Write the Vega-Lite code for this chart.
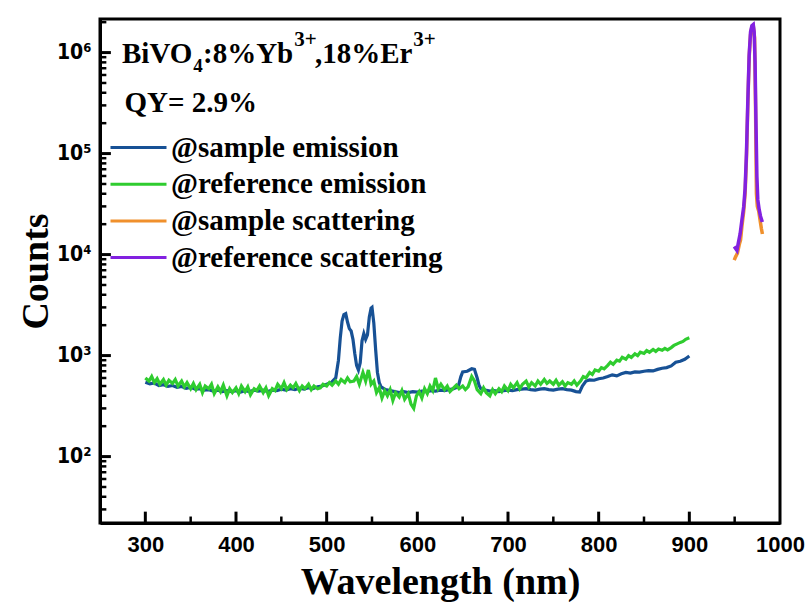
{
  "$schema": "https://vega.github.io/schema/vega-lite/v6.json",
  "width": 680,
  "height": 504,
  "autosize": {"type": "none"},
  "padding": {"left": 100, "top": 19, "right": 26, "bottom": 79},
  "background": "white",
  "config": {
    "view": {"stroke": "#000", "strokeWidth": 3},
    "axis": {
      "domainColor": "#000", "domainWidth": 3, "grid": false, "ticks": false, "zindex": 1,
      "labelFont": "Liberation Sans", "labelFontWeight": "bold", "labelFontSize": 22, "labelColor": "#000",
      "titleFont": "Liberation Serif", "titleFontWeight": "bold", "titleFontSize": 38, "titleColor": "#000",
      "labelOverlap": false, "labelBound": false, "labelFlush": false
    }
  },
  "datasets": {
    "sampleEm": [
      {"wl":300,"counts":545},{"wl":305,"counts":525},{"wl":310,"counts":535},{"wl":315,"counts":505},{"wl":320,"counts":515},{"wl":325,"counts":495},{"wl":330,"counts":505},{"wl":335,"counts":485},{"wl":340,"counts":495},{"wl":345,"counts":475},{"wl":350,"counts":485},{"wl":355,"counts":465},{"wl":360,"counts":470},{"wl":365,"counts":455},{"wl":370,"counts":460},{"wl":375,"counts":445},{"wl":380,"counts":455},{"wl":385,"counts":440},{"wl":390,"counts":450},{"wl":395,"counts":440},{"wl":400,"counts":450},{"wl":405,"counts":435},{"wl":410,"counts":450},{"wl":415,"counts":440},{"wl":420,"counts":455},{"wl":425,"counts":445},{"wl":430,"counts":455},{"wl":435,"counts":440},{"wl":440,"counts":455},{"wl":445,"counts":450},{"wl":450,"counts":465},{"wl":455,"counts":455},{"wl":460,"counts":470},{"wl":465,"counts":460},{"wl":470,"counts":475},{"wl":475,"counts":465},{"wl":480,"counts":480},{"wl":485,"counts":470},{"wl":490,"counts":490},{"wl":495,"counts":500},{"wl":500,"counts":520},{"wl":505,"counts":540},{"wl":510,"counts":600},{"wl":513,"counts":900},{"wl":515,"counts":1500},{"wl":517,"counts":2200},{"wl":519,"counts":2550},{"wl":521,"counts":2600},{"wl":523,"counts":2150},{"wl":525,"counts":1850},{"wl":527,"counts":1750},{"wl":529,"counts":1450},{"wl":531,"counts":1050},{"wl":533,"counts":800},{"wl":535,"counts":720},{"wl":537,"counts":850},{"wl":539,"counts":1400},{"wl":541,"counts":1650},{"wl":543,"counts":1450},{"wl":545,"counts":1600},{"wl":547,"counts":2400},{"wl":549,"counts":2950},{"wl":550,"counts":3000},{"wl":552,"counts":2100},{"wl":554,"counts":1150},{"wl":556,"counts":680},{"wl":558,"counts":540},{"wl":560,"counts":490},{"wl":565,"counts":460},{"wl":570,"counts":450},{"wl":575,"counts":440},{"wl":580,"counts":430},{"wl":585,"counts":440},{"wl":590,"counts":430},{"wl":595,"counts":440},{"wl":600,"counts":435},{"wl":605,"counts":445},{"wl":610,"counts":440},{"wl":615,"counts":450},{"wl":620,"counts":445},{"wl":625,"counts":455},{"wl":630,"counts":450},{"wl":635,"counts":460},{"wl":640,"counts":470},{"wl":645,"counts":490},{"wl":648,"counts":620},{"wl":650,"counts":690},{"wl":655,"counts":700},{"wl":660,"counts":740},{"wl":663,"counts":730},{"wl":666,"counts":600},{"wl":668,"counts":510},{"wl":670,"counts":470},{"wl":675,"counts":455},{"wl":680,"counts":445},{"wl":685,"counts":450},{"wl":690,"counts":440},{"wl":695,"counts":450},{"wl":700,"counts":455},{"wl":705,"counts":450},{"wl":710,"counts":460},{"wl":715,"counts":465},{"wl":720,"counts":470},{"wl":725,"counts":460},{"wl":730,"counts":455},{"wl":735,"counts":465},{"wl":740,"counts":470},{"wl":745,"counts":460},{"wl":750,"counts":455},{"wl":755,"counts":465},{"wl":760,"counts":470},{"wl":765,"counts":460},{"wl":770,"counts":455},{"wl":775,"counts":440},{"wl":779,"counts":435},{"wl":782,"counts":500},{"wl":786,"counts":560},{"wl":790,"counts":575},{"wl":795,"counts":570},{"wl":800,"counts":590},{"wl":805,"counts":600},{"wl":810,"counts":620},{"wl":815,"counts":645},{"wl":820,"counts":630},{"wl":825,"counts":660},{"wl":830,"counts":680},{"wl":835,"counts":670},{"wl":840,"counts":690},{"wl":845,"counts":685},{"wl":850,"counts":700},{"wl":855,"counts":710},{"wl":860,"counts":705},{"wl":865,"counts":730},{"wl":870,"counts":750},{"wl":875,"counts":760},{"wl":880,"counts":790},{"wl":885,"counts":860},{"wl":890,"counts":880},{"wl":895,"counts":920},{"wl":900,"counts":990}
    ],
    "refEm": [
      {"wl":300,"counts":600},{"wl":304,"counts":560},{"wl":307,"counts":620},{"wl":310,"counts":540},{"wl":313,"counts":590},{"wl":316,"counts":520},{"wl":320,"counts":580},{"wl":323,"counts":510},{"wl":326,"counts":570},{"wl":330,"counts":530},{"wl":333,"counts":580},{"wl":336,"counts":500},{"wl":340,"counts":560},{"wl":343,"counts":490},{"wl":346,"counts":540},{"wl":350,"counts":470},{"wl":353,"counts":530},{"wl":356,"counts":460},{"wl":360,"counts":520},{"wl":363,"counts":430},{"wl":366,"counts":500},{"wl":370,"counts":470},{"wl":373,"counts":520},{"wl":376,"counts":420},{"wl":380,"counts":490},{"wl":383,"counts":440},{"wl":386,"counts":510},{"wl":390,"counts":400},{"wl":393,"counts":470},{"wl":396,"counts":430},{"wl":400,"counts":480},{"wl":403,"counts":420},{"wl":406,"counts":500},{"wl":410,"counts":440},{"wl":413,"counts":490},{"wl":416,"counts":410},{"wl":420,"counts":470},{"wl":423,"counts":450},{"wl":426,"counts":500},{"wl":430,"counts":430},{"wl":433,"counts":480},{"wl":436,"counts":400},{"wl":440,"counts":470},{"wl":443,"counts":450},{"wl":446,"counts":520},{"wl":450,"counts":470},{"wl":453,"counts":540},{"wl":456,"counts":460},{"wl":460,"counts":510},{"wl":463,"counts":480},{"wl":466,"counts":530},{"wl":470,"counts":450},{"wl":473,"counts":500},{"wl":476,"counts":470},{"wl":480,"counts":520},{"wl":483,"counts":460},{"wl":486,"counts":500},{"wl":490,"counts":470},{"wl":493,"counts":480},{"wl":496,"counts":520},{"wl":500,"counts":500},{"wl":503,"counts":540},{"wl":506,"counts":510},{"wl":510,"counts":560},{"wl":513,"counts":520},{"wl":516,"counts":580},{"wl":520,"counts":540},{"wl":523,"counts":600},{"wl":526,"counts":550},{"wl":530,"counts":560},{"wl":533,"counts":620},{"wl":536,"counts":520},{"wl":540,"counts":680},{"wl":543,"counts":560},{"wl":546,"counts":720},{"wl":549,"counts":520},{"wl":552,"counts":560},{"wl":555,"counts":430},{"wl":558,"counts":480},{"wl":561,"counts":380},{"wl":564,"counts":450},{"wl":567,"counts":400},{"wl":570,"counts":460},{"wl":573,"counts":360},{"wl":576,"counts":430},{"wl":580,"counts":390},{"wl":583,"counts":450},{"wl":586,"counts":370},{"wl":590,"counts":420},{"wl":593,"counts":330},{"wl":596,"counts":300},{"wl":599,"counts":400},{"wl":602,"counts":440},{"wl":605,"counts":380},{"wl":608,"counts":470},{"wl":611,"counts":420},{"wl":614,"counts":500},{"wl":617,"counts":450},{"wl":620,"counts":600},{"wl":623,"counts":470},{"wl":626,"counts":520},{"wl":630,"counts":460},{"wl":633,"counts":500},{"wl":636,"counts":440},{"wl":640,"counts":480},{"wl":643,"counts":510},{"wl":646,"counts":470},{"wl":650,"counts":500},{"wl":653,"counts":460},{"wl":656,"counts":490},{"wl":660,"counts":620},{"wl":663,"counts":560},{"wl":666,"counts":460},{"wl":670,"counts":420},{"wl":673,"counts":480},{"wl":676,"counts":430},{"wl":680,"counts":400},{"wl":683,"counts":460},{"wl":686,"counts":420},{"wl":690,"counts":470},{"wl":693,"counts":440},{"wl":696,"counts":500},{"wl":700,"counts":450},{"wl":703,"counts":520},{"wl":706,"counts":480},{"wl":710,"counts":540},{"wl":713,"counts":470},{"wl":716,"counts":520},{"wl":720,"counts":560},{"wl":723,"counts":490},{"wl":726,"counts":540},{"wl":730,"counts":500},{"wl":733,"counts":560},{"wl":736,"counts":520},{"wl":740,"counts":580},{"wl":743,"counts":530},{"wl":746,"counts":560},{"wl":750,"counts":520},{"wl":753,"counts":570},{"wl":756,"counts":510},{"wl":760,"counts":550},{"wl":763,"counts":500},{"wl":766,"counts":540},{"wl":770,"counts":520},{"wl":773,"counts":560},{"wl":776,"counts":510},{"wl":780,"counts":560},{"wl":783,"counts":620},{"wl":786,"counts":600},{"wl":790,"counts":680},{"wl":793,"counts":650},{"wl":796,"counts":720},{"wl":800,"counts":700},{"wl":803,"counts":760},{"wl":806,"counts":740},{"wl":810,"counts":800},{"wl":813,"counts":860},{"wl":816,"counts":820},{"wl":820,"counts":900},{"wl":823,"counts":880},{"wl":826,"counts":960},{"wl":830,"counts":920},{"wl":833,"counts":1000},{"wl":836,"counts":960},{"wl":840,"counts":1040},{"wl":843,"counts":1000},{"wl":846,"counts":1080},{"wl":850,"counts":1050},{"wl":853,"counts":1120},{"wl":856,"counts":1080},{"wl":860,"counts":1150},{"wl":863,"counts":1100},{"wl":866,"counts":1160},{"wl":870,"counts":1130},{"wl":873,"counts":1180},{"wl":876,"counts":1140},{"wl":880,"counts":1200},{"wl":883,"counts":1260},{"wl":886,"counts":1300},{"wl":890,"counts":1350},{"wl":893,"counts":1380},{"wl":896,"counts":1450},{"wl":900,"counts":1500}
    ],
    "sampleSc": [
      {"wl":949.5,"counts":8800},{"wl":951,"counts":9500},{"wl":953,"counts":10300},{"wl":955,"counts":12500},{"wl":956.5,"counts":14000},{"wl":958,"counts":19000},{"wl":960,"counts":27000},{"wl":961.5,"counts":40000},{"wl":963,"counts":90000},{"wl":964.5,"counts":300000},{"wl":966,"counts":900000},{"wl":967.5,"counts":1500000},{"wl":969,"counts":1800000},{"wl":970.5,"counts":1850000},{"wl":972,"counts":1400000},{"wl":973,"counts":300000},{"wl":974,"counts":40000},{"wl":975,"counts":30000},{"wl":976.5,"counts":27000},{"wl":978,"counts":22000},{"wl":979.5,"counts":18000},{"wl":980.6,"counts":16000}
    ],
    "refSc": [
      {"wl":949.5,"counts":12000},{"wl":951,"counts":11500},{"wl":952.5,"counts":11000},{"wl":954,"counts":13000},{"wl":956,"counts":16000},{"wl":958,"counts":22000},{"wl":960,"counts":30000},{"wl":961.5,"counts":45000},{"wl":963,"counts":100000},{"wl":964.5,"counts":330000},{"wl":966,"counts":950000},{"wl":967.5,"counts":1600000},{"wl":969,"counts":1850000},{"wl":970.5,"counts":1900000},{"wl":971.5,"counts":1600000},{"wl":972.5,"counts":800000},{"wl":973.5,"counts":200000},{"wl":974.5,"counts":60000},{"wl":975.5,"counts":35000},{"wl":977,"counts":28000},{"wl":978.5,"counts":24000},{"wl":980.5,"counts":21000}
    ],
    "notes": [
      {"wl":274.3,"counts":791000,"label":"BiVO"},
      {"wl":363.6,"counts":791000,"label":":8%Yb"},
      {"wl":487.1,"counts":791000,"label":",18%Er"},
      {"wl":277,"counts":259000,"label":"QY= 2.9%"}
    ],
    "subs": [
      {"wl":352.8,"counts":640000,"label":"4"}
    ],
    "sups": [
      {"wl":464.2,"counts":1165000,"label":"3+"},
      {"wl":595.4,"counts":1165000,"label":"3+"}
    ],
    "xMajor": [{"wl":300},{"wl":400},{"wl":500},{"wl":600},{"wl":700},{"wl":800},{"wl":900}],
    "xMinor": [{"wl":350},{"wl":450},{"wl":550},{"wl":650},{"wl":750},{"wl":850},{"wl":950}],
    "yMajor": [{"counts":100},{"counts":1000},{"counts":10000},{"counts":100000},{"counts":1000000}],
    "yMinor": [{"counts":30},{"counts":40},{"counts":50},{"counts":60},{"counts":70},{"counts":80},{"counts":90},{"counts":200},{"counts":300},{"counts":400},{"counts":500},{"counts":600},{"counts":700},{"counts":800},{"counts":900},{"counts":2000},{"counts":3000},{"counts":4000},{"counts":5000},{"counts":6000},{"counts":7000},{"counts":8000},{"counts":9000},{"counts":20000},{"counts":30000},{"counts":40000},{"counts":50000},{"counts":60000},{"counts":70000},{"counts":80000},{"counts":90000},{"counts":200000},{"counts":300000},{"counts":400000},{"counts":500000},{"counts":600000},{"counts":700000},{"counts":800000},{"counts":900000},{"counts":2000000}]
  },
  "layer": [
    {"data": {"name": "sampleEm"}, "mark": {"type": "line", "strokeWidth": 3.2, "clip": true}, "encoding": {
      "x": {
        "field": "wl", "type": "quantitative",
        "scale": {"domain": [250, 1000], "nice": false, "zero": false},
        "axis": {"title": "Wavelength (nm)", "titlePadding": 8, "values": [300,400,500,600,700,800,900,1000], "format": "d", "labelPadding": 11}
      },
      "y": {
        "field": "counts", "type": "quantitative",
        "scale": {"type": "log", "domain": [22, 2150000], "nice": false},
        "axis": {
          "title": "Counts", "titlePadding": 1,
          "values": [100,1000,10000,100000,1000000],
          "labelExpr": "datum.value == 100 ? '10²' : datum.value == 1000 ? '10³' : datum.value == 10000 ? '10⁴' : datum.value == 100000 ? '10⁵' : datum.value == 1000000 ? '10⁶' : ''",
          "labelFont": "DejaVu Sans Condensed", "labelFontSize": 21, "labelPadding": 9
        }
      },
      "color": {"datum": "@sample emission"}}},
    {"data": {"name": "refEm"}, "mark": {"type": "line", "strokeWidth": 3.2, "clip": true}, "encoding": {"x": {"field": "wl", "type": "quantitative"}, "y": {"field": "counts", "type": "quantitative"}, "color": {"datum": "@reference emission"}}},
    {"data": {"name": "sampleSc"}, "mark": {"type": "line", "strokeWidth": 3.5, "clip": true}, "encoding": {"x": {"field": "wl", "type": "quantitative"}, "y": {"field": "counts", "type": "quantitative"}, "color": {"datum": "@sample scattering"}}},
    {"data": {"name": "refSc"}, "mark": {"type": "line", "strokeWidth": 3.5, "clip": true}, "encoding": {
      "x": {"field": "wl", "type": "quantitative"}, "y": {"field": "counts", "type": "quantitative"},
      "color": {"datum": "@reference scattering", "type": "nominal",
        "scale": {"domain": ["@sample emission", "@reference emission", "@sample scattering", "@reference scattering"], "range": ["#175195", "#2fcc2f", "#f0902c", "#8221e0"]},
        "legend": {
          "title": null, "orient": "none", "legendX": 24, "legendY": 114, "padding": 0,
          "symbolType": "M-5.6,0H5.6", "symbolSize": 100, "symbolStrokeWidth": 3,
          "labelFont": "Liberation Serif", "labelFontWeight": "bold", "labelFontSize": 29, "labelColor": "#000",
          "labelOffset": 18, "rowPadding": 6.7, "labelLimit": 0
        }
      }
    }},
    {"data": {"name": "xMajor"}, "mark": {"type": "rule", "strokeWidth": 3, "stroke": "#000"}, "encoding": {"x": {"field": "wl", "type": "quantitative"}, "y": {"datum": 22, "type": "quantitative"}, "y2": {"datum": 28.5}}},
    {"data": {"name": "xMinor"}, "mark": {"type": "rule", "strokeWidth": 2.5, "stroke": "#000"}, "encoding": {"x": {"field": "wl", "type": "quantitative"}, "y": {"datum": 22, "type": "quantitative"}, "y2": {"datum": 25.5}}},
    {"data": {"name": "yMajor"}, "mark": {"type": "rule", "strokeWidth": 3, "stroke": "#000"}, "encoding": {"y": {"field": "counts", "type": "quantitative"}, "x": {"datum": 250, "type": "quantitative"}, "x2": {"datum": 262}}},
    {"data": {"name": "yMinor"}, "mark": {"type": "rule", "strokeWidth": 2.5, "stroke": "#000"}, "encoding": {"y": {"field": "counts", "type": "quantitative"}, "x": {"datum": 250, "type": "quantitative"}, "x2": {"datum": 257}}},
    {"data": {"name": "notes"}, "mark": {"type": "text", "align": "left", "baseline": "alphabetic", "font": "Liberation Serif", "fontWeight": "bold", "fontSize": 29, "color": "#000"}, "encoding": {"x": {"field": "wl", "type": "quantitative"}, "y": {"field": "counts", "type": "quantitative"}, "text": {"field": "label"}}},
    {"data": {"name": "subs"}, "mark": {"type": "text", "align": "left", "baseline": "alphabetic", "font": "Liberation Serif", "fontWeight": "bold", "fontSize": 19, "color": "#000"}, "encoding": {"x": {"field": "wl", "type": "quantitative"}, "y": {"field": "counts", "type": "quantitative"}, "text": {"field": "label"}}},
    {"data": {"name": "sups"}, "mark": {"type": "text", "align": "left", "baseline": "alphabetic", "font": "Liberation Serif", "fontWeight": "bold", "fontSize": 21, "color": "#000"}, "encoding": {"x": {"field": "wl", "type": "quantitative"}, "y": {"field": "counts", "type": "quantitative"}, "text": {"field": "label"}}}
  ]
}
